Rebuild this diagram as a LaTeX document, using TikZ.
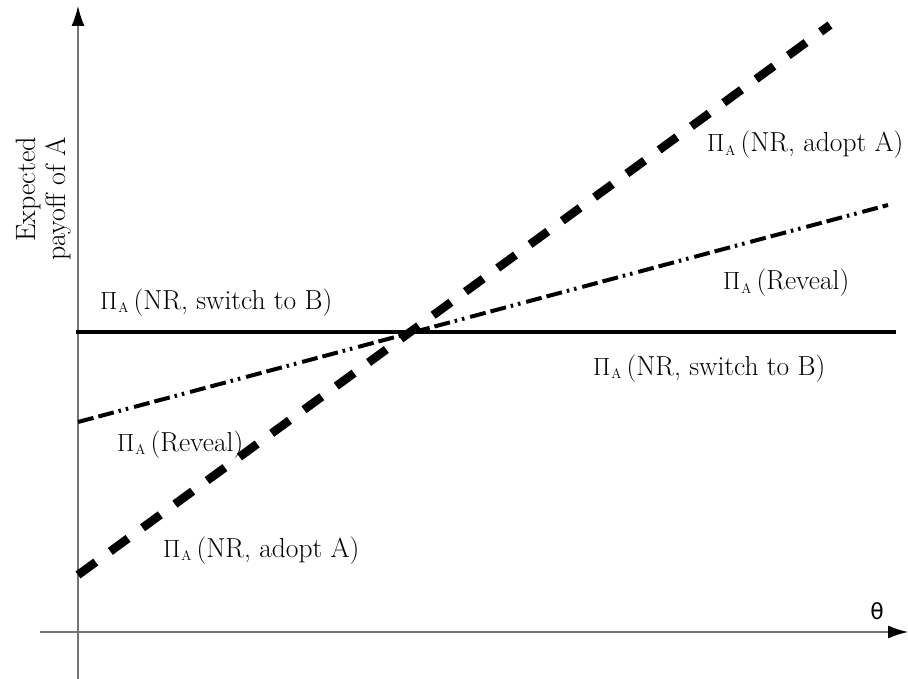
\documentclass[tikz,border=0pt]{standalone}
\usepackage{fontspec}
\newfontfamily\thetafont{DejaVu Sans}
\usetikzlibrary{arrows.meta}
\begin{document}
\begin{tikzpicture}[x=1pt,y=-1pt,
  axis/.style={draw=black!55,line width=1.5pt},
  solidline/.style={line width=4pt},
  adoptline/.style={line width=8.5pt,dash pattern=on 22pt off 18pt},
  revealline/.style={line width=4pt,dash pattern=on 16pt off 5pt on 16pt off 5pt on 2.5pt off 5pt on 2.5pt off 6pt},
  lbl/.style={anchor=base west,inner sep=0pt,font=\fontsize{27.5}{30}\selectfont}]
\useasboundingbox (0,0) rectangle (908,679);
% axes
\coordinate (yb) at (78,679);
\coordinate (yt) at (78,6);
\coordinate (xl) at (40,632);
\coordinate (xr) at (908,632);
\draw[axis,-{Latex[color=black,length=20pt,width=13pt]}] (yb) -- (yt);
\draw[axis,-{Latex[color=black,length=20pt,width=13pt]}] (xl) -- (xr);
% lines
\coordinate (s1) at (76,332);
\coordinate (s2) at (896,332);
\draw[solidline] (s1) -- (s2);
\coordinate (r1) at (78,422);
\coordinate (r2) at (888,205);
\draw[revealline] (r1) -- (r2);
\coordinate (a1) at (78,575);
\coordinate (a2) at (830,25);
\draw[adoptline] (a1) -- (a2);
% labels
\newcommand{\PiA}{$\Pi_{\hspace{1pt}\scriptscriptstyle\mathrm{A}}$\,}
\node[lbl] (l1) at (100,309) {\PiA(NR, switch to B)};
\node[lbl] (l2) at (593,375) {\PiA(NR, switch to B)};
\node[lbl] (l3) at (723,290) {\PiA(Reveal)};
\node[lbl] (l4) at (117,451) {\PiA(Reveal)};
\node[lbl] (l5) at (163,557) {\PiA(NR, adopt A)};
\node[lbl] (l6) at (707,152) {\PiA(NR, adopt A)};
\node[inner sep=0pt,font=\thetafont\fontsize{22}{24}\selectfont] (th) at (877,611) {θ};
\node[rotate=90,anchor=north east,align=right,inner sep=0pt,font=\fontsize{28}{30}\selectfont] (yl) at (16,137) {Expected\\payoff of A};
\end{tikzpicture}
\end{document}
